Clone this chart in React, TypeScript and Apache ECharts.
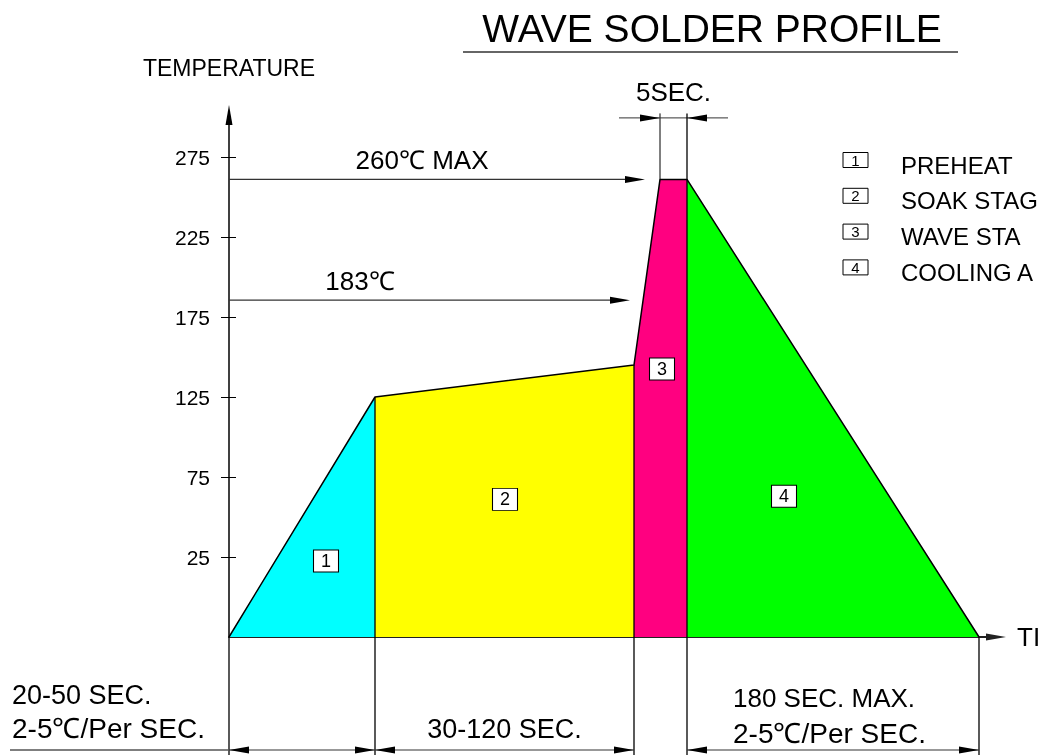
import React, { useEffect, useRef } from 'react';
import * as echarts from 'echarts';

// ---------- data ----------
const TITLE = 'WAVE SOLDER PROFILE';
const Y_NAME = 'TEMPERATURE';
const X_NAME = 'TI';
const Y_TICKS = [25, 75, 125, 175, 225, 275];

// profile break points: [time (arbitrary units), temperature °C]
const PREHEAT = [[0, -25], [73, 125]];
const SOAK = [[73, 125], [202.5, 145]];
const WAVE = [[202.5, 145], [215.5, 261], [229, 261]];
const COOLING = [[229, 261], [375, -25]];
const PROFILE = [[0, -25], [73, 125], [202.5, 145], [215.5, 261], [229, 261], [375, -25]];

const ZONE_NUMBERS = ['1', '2', '3', '4'];
const ZONE_NAMES = ['PREHEAT', 'SOAK STAG', 'WAVE STA', 'COOLING A'];
const ZONE_COLORS = ['#00FFFF', '#FFFF00', '#FF0080', '#00FF00'];
const ZONE_MARKS = [[48.5, 22.5], [138, 61], [216.5, 142.5], [277.5, 63]];

const PEAK_LABEL = '260℃ MAX';
const PEAK_TEMP = 261;
const PEAK_ARROW_END = 208;
const PEAK_LABEL_X = 96.5;
const LIQUIDUS_LABEL = '183℃';
const LIQUIDUS_TEMP = 185.5;
const LIQUIDUS_ARROW_END = 200.5;
const LIQUIDUS_LABEL_X = 65.5;
const DWELL_LABEL = '5SEC.';
const PREHEAT_TIME = ['20-50 SEC.', '2-5℃/Per SEC.'];
const SOAK_TIME = '30-120 SEC.';
const COOLING_TIME = ['180 SEC. MAX.', '2-5℃/Per SEC.'];

const FONT = "'Liberation Sans', Arial, sans-serif";

function ln(x1: number, y1: number, x2: number, y2: number, w = 1, c = '#000') {
  return { type: 'line', z: 100, silent: true, shape: { x1, y1, x2, y2 }, style: { stroke: c, lineWidth: w } };
}
function head(tip: number[], dx: number, dy: number) {
  const L = 20, W = 3.5;
  const bx = tip[0] - dx * L, by = tip[1] - dy * L;
  const nx = -dy, ny = dx;
  return {
    type: 'polygon', z: 101, silent: true,
    shape: { points: [[tip[0], tip[1]], [bx + nx * W, by + ny * W], [bx - nx * W, by - ny * W]] },
    style: { fill: '#000' },
  };
}
function txt(t: string, x: number, y: number, size: number, align = 'center') {
  return {
    type: 'text', z: 102, silent: true, x, y,
    style: {
      text: t, fill: '#000', font: `${size}px ${FONT}`,
      align, verticalAlign: 'middle', textAlign: align, textVerticalAlign: 'middle',
    },
  };
}

export default function App() {
  const ref = useRef<HTMLDivElement>(null);
  useEffect(() => {
    const chart = echarts.init(ref.current!, null, { renderer: 'svg' });
    const fills = [PREHEAT, SOAK, WAVE, COOLING].map((d, i) => ({
      type: 'line', data: d, symbol: 'none', silent: true, z: 2,
      lineStyle: { width: 0, opacity: 0 },
      areaStyle: { color: ZONE_COLORS[i], opacity: 1, origin: 'start' },
    }));
    chart.setOption({
      animation: false,
      grid: { left: 229, right: 49, top: 115, bottom: 118, containLabel: false, outerBoundsMode: 'none' },
      xAxis: {
        type: 'value', min: 0, max: 383.5,
        axisLine: { show: true, onZero: false, symbol: ['none', 'triangle'], symbolSize: [7, 20], lineStyle: { color: '#222', width: 2 } },
        axisTick: { show: false }, axisLabel: { show: false }, splitLine: { show: false },
        name: X_NAME, nameLocation: 'end', nameGap: 21,
        nameTextStyle: { fontSize: 26, fontFamily: FONT, color: '#000' },
      },
      yAxis: [
        {
          type: 'value', min: -25, max: 301.25, position: 'left',
          axisLine: { show: true, onZero: false, symbol: ['none', 'triangle'], symbolSize: [7, 20], lineStyle: { color: '#000', width: 1.5 } },
          axisTick: { show: true, length: 8, customValues: Y_TICKS, lineStyle: { color: '#000', width: 1 } },
          axisLabel: { show: true, customValues: Y_TICKS, margin: 19, fontSize: 21, fontFamily: FONT, color: '#000' },
          splitLine: { show: false },
          name: Y_NAME, nameLocation: 'end', nameGap: 36,
          nameTextStyle: { fontSize: 23, fontFamily: FONT, color: '#000' },
        },
        {
          type: 'value', min: -25, max: 301.25, position: 'left', offset: 0,
          axisLine: { show: false, onZero: false },
          axisTick: { show: true, inside: true, length: 7, customValues: Y_TICKS, lineStyle: { color: '#000', width: 1 } },
          axisLabel: { show: false }, splitLine: { show: false },
        },
      ],
      series: [
        ...fills,
        { type: 'line', data: PROFILE, symbol: 'none', silent: true, z: 3, lineStyle: { color: '#000', width: 1.5 } },
        {
          type: 'scatter', z: 5, silent: true,
          data: ZONE_MARKS.map((p, i) => [p[0], p[1], ZONE_NUMBERS[i]]),
          symbol: 'rect', symbolSize: [25, 22],
          itemStyle: { color: '#fff', borderColor: '#000', borderWidth: 1, opacity: 1 },
          label: { show: true, position: 'inside', formatter: (p: any) => p.value[2], fontSize: 18, fontFamily: FONT, color: '#000' },
        },
      ],
    });

    const P = (x: number, y: number) => chart.convertToPixel({ gridIndex: 0 }, [x, y]) as number[];
    const base = P(0, -25);
    const yBase = base[1];
    const x0 = base[0];
    const yBottom = 755;
    const dimY = yBase + 113;
    const xPre = P(PREHEAT[1][0], PREHEAT[1][1]);
    const xSoak = P(SOAK[1][0], SOAK[1][1]);
    const pl = P(WAVE[1][0], WAVE[1][1]);
    const pr = P(WAVE[2][0], WAVE[2][1]);
    const xCool = P(COOLING[1][0], COOLING[1][1]);
    const els: any[] = [];

    // title
    els.push(txt(TITLE, 712, 28, 39));
    els.push(ln(463, 52, 958, 52, 1.3, '#333'));

    // peak arrow
    const pk0 = P(0, PEAK_TEMP), pk1 = P(PEAK_ARROW_END, PEAK_TEMP);
    els.push(ln(pk0[0], pk0[1], pk1[0] - 10, pk1[1], 1.2, '#333'), head(pk1, 1, 0));
    els.push(txt(PEAK_LABEL, P(PEAK_LABEL_X, 0)[0], pk0[1] - 19, 26));

    // liquidus arrow
    const lq0 = P(0, LIQUIDUS_TEMP), lq1 = P(LIQUIDUS_ARROW_END, LIQUIDUS_TEMP);
    els.push(ln(lq0[0], lq0[1], lq1[0] - 10, lq1[1], 1.2, '#333'), head(lq1, 1, 0));
    els.push(txt(LIQUIDUS_LABEL, P(LIQUIDUS_LABEL_X, 0)[0], lq0[1] - 19.5, 26));

    // 5 sec dwell dimension
    const dimTop = pl[1] - 66;
    const dLineY = pl[1] - 61.5;
    els.push(ln(pl[0], pl[1], pl[0], dimTop));
    els.push(ln(pl[0] - 41, dLineY, pr[0] + 41, dLineY, 1, '#333'));
    els.push(head([pl[0], dLineY], 1, 0), head([pr[0], dLineY], -1, 0));
    els.push(txt(DWELL_LABEL, (pl[0] + pr[0]) / 2, dLineY - 25.5, 26));

    // vertical stage boundaries / extension lines
    els.push(ln(xPre[0], xPre[1], xPre[0], yBottom, 1.3));
    els.push(ln(xSoak[0], xSoak[1], xSoak[0], yBottom, 1.3));
    els.push(ln(pr[0], dimTop, pr[0], yBottom, 1.3));
    els.push(ln(xCool[0], yBase, xCool[0], yBottom, 1.3));
    els.push(ln(x0, yBase, x0, yBottom, 1.3));

    // bottom dimension line
    els.push(ln(10, dimY, x0, dimY, 1.3, '#555'));
    const segs = [[x0, xPre[0]], [xPre[0], xSoak[0]], [pr[0], xCool[0]]];
    segs.forEach(([a, b]) => {
      els.push(ln(a, dimY, b, dimY, 1.2, '#333'));
      els.push(head([a, dimY], -1, 0), head([b, dimY], 1, 0));
    });
    els.push(txt(PREHEAT_TIME[0], 12, 695, 27, 'left'));
    els.push(txt(PREHEAT_TIME[1], 12, 728.5, 28, 'left'));
    els.push(txt(SOAK_TIME, (xPre[0] + xSoak[0]) / 2, 728.5, 27));
    els.push(txt(COOLING_TIME[0], pr[0] + 46, 698, 26, 'left'));
    els.push(txt(COOLING_TIME[1], pr[0] + 46, 733.5, 28, 'left'));

    // legend
    ZONE_NAMES.forEach((name, i) => {
      const cy = 160 + i * 35.8;
      els.push({
        type: 'rect', z: 100, silent: true,
        shape: { x: 843, y: cy - 7.5, width: 25, height: 15 },
        style: { fill: '#fff', stroke: '#000', lineWidth: 1 },
      });
      els.push(txt(ZONE_NUMBERS[i], 855.5, cy, 15));
      els.push(txt(name, 901, cy + 5, 24, 'left'));
    });

    chart.setOption({ graphic: els });
    return () => chart.dispose();
  }, []);
  return <div ref={ref} style={{ position: 'fixed', left: 0, top: 0, width: 1045, height: 755 }} />;
}
